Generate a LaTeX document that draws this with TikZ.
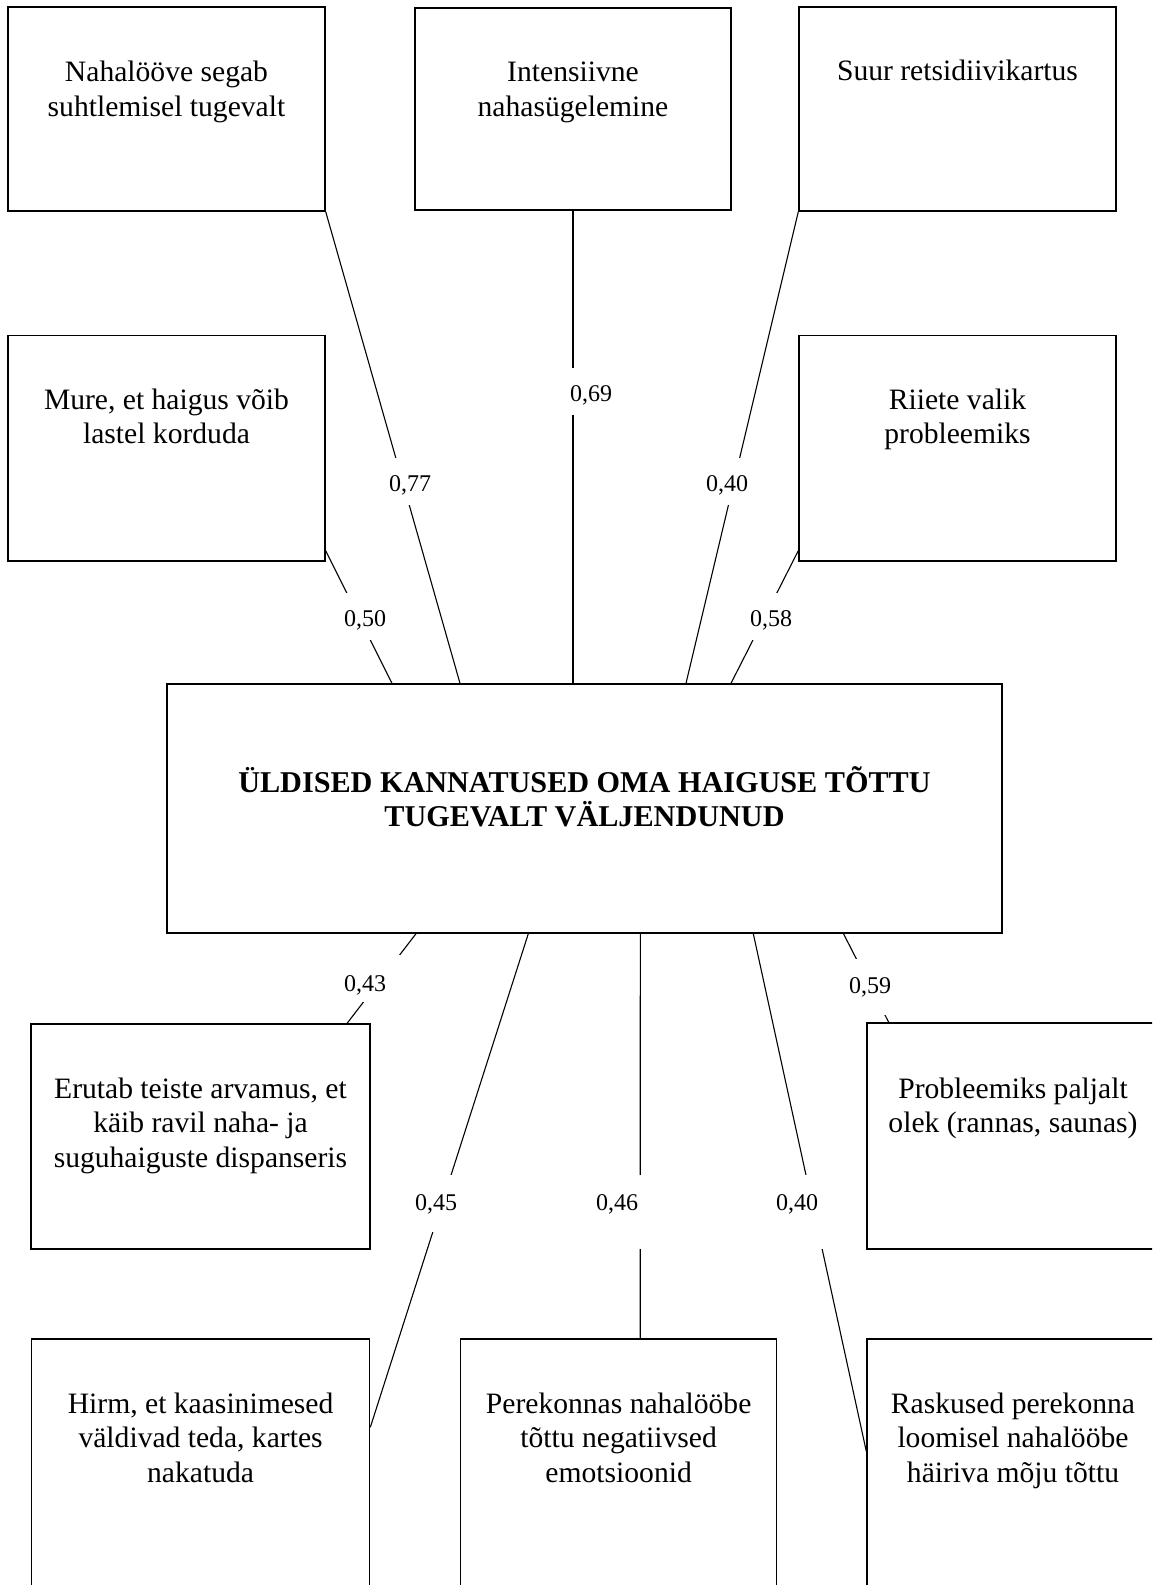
\documentclass[tikz,border=0pt]{standalone}
\usepackage{fontspec}
\setmainfont{Liberation Serif}
\usetikzlibrary{calc}
\newcommand\bxfont{\fontsize{14.8}{17.25}\selectfont}
\newcommand\ttlfont{\fontsize{15.1}{17.25}\selectfont\bfseries}
\newcommand\lbfont{\fontsize{12}{14}\selectfont}
\begin{document}
\begin{tikzpicture}[x=0.5pt,y=-0.5pt,
  box/.style={draw, line width=0.7pt, inner xsep=4pt, inner ysep=0pt, align=flush center, font=\bxfont},
  conn/.style={line width=0.55pt},
  lbl/.style={fill=white, inner sep=0pt, font=\lbfont, anchor=base, minimum width=32pt}]
\clip (0,0) rectangle (1152,1585);
% boxes
\node[box, text width=150.5pt, text height=37.35pt, text depth=64.65pt] (n1) at (166.5,109) {Nahalööve segab\\suhtlemisel tugevalt};
\node[box, text width=150pt, text height=36.85pt, text depth=64.15pt] (n2) at (573,109) {Intensiivne\\nahasügelemine};
\node[box, text width=150.5pt, text height=36.5pt, text depth=65.5pt] (n3) at (957.5,109) {Suur retsidiivikartus};
\node[box, text width=150.5pt, text height=36.75pt, text depth=76pt] (n4) at (166.5,448.25) {Mure, et haigus võib\\lastel korduda};
\node[box, text width=150.5pt, text height=36.75pt, text depth=76pt] (n5) at (957.5,448.25) {Riiete valik\\probleemiks};
\node[box, text width=409.5pt, text height=54pt, text depth=70.5pt, font=\ttlfont] (c) at (584.5,808.5) {ÜLDISED KANNATUSED OMA HAIGUSE TÕTTU\\TUGEVALT VÄLJENDUNUD};
\node[box, text width=161.5pt, text height=37pt, text depth=75.5pt] (n7) at (200.5,1136.5) {Erutab teiste arvamus, et\\käib ravil naha- ja\\suguhaiguste dispanseris};
\node[box, text width=138pt, text height=37.5pt, text depth=75.5pt] (n8) at (1013,1136) {Probleemiks paljalt\\olek (rannas, saunas)};
\node[box, text width=161pt, text height=37pt, text depth=93.5pt] (n9) at (200.6,1469.5) {Hirm, et kaasinimesed\\väldivad teda, kartes\\nakatuda};
\node[box, text width=150pt, text height=37pt, text depth=93.5pt] (n10) at (618.65,1469.5) {Perekonnas nahalööbe\\tõttu negatiivsed\\emotsioonid};
\node[box, text width=138pt, text height=37pt, text depth=93.5pt] (n11) at (1013,1469.5) {Raskused perekonna\\loomisel nahalööbe\\häiriva mõju tõttu};
% connectors
\draw[conn] (n1.south east) -- ($(c.north west)+(293.7,0)$);
\draw[conn] (n2.south) -- (c.north -| n2.south);
\draw[conn] (n3.south west) -- ($(c.north west)+(519.7,0)$);
\draw[conn] ($(n4.south east)+(0,-11)$) -- ($(c.north west)+(225.7,0)$);
\draw[conn] ($(n5.south west)+(0,-11)$) -- ($(c.north west)+(564.7,0)$);
\draw[conn] ($(c.south west)+(249.7,0)$) -- ($(n7.north west)+(316.8,0)$);
\draw[conn] ($(c.south west)+(362,0)$) -- ($(n9.north east)+(0,89)$);
\draw[conn] ($(c.south west)+(474,0)$) -- ($(n10.north west)+(180.3,0)$);
\draw[conn] ($(c.south west)+(587,0)$) -- ($(n11.north west)+(0,113)$);
\draw[conn] ($(c.south west)+(677.2,0)$) -- ($(n8.north west)+(22.4,0)$);
% labels
\node[lbl, text height=16.5pt, text depth=7pt] (l77) at (410,491) {0,77};
\node[lbl, text height=16.5pt, text depth=7pt] (l69) at (591,401) {0,69};
\node[lbl, text height=16.5pt, text depth=7pt] (l40a) at (727,491) {0,40};
\node[lbl, text height=16.5pt, text depth=7pt] (l50) at (365,626) {0,50};
\node[lbl, text height=16.5pt, text depth=7pt] (l58) at (771,626) {0,58};
\node[lbl, text height=18pt, text depth=5.5pt, minimum width=40pt] (l43) at (365,991) {0,43};
\node[lbl, text height=17pt, text depth=11pt] (l59) at (870,993) {0,59};
\node[lbl, text height=17.5pt, text depth=11pt] (l45) at (436,1210) {0,45};
\node[lbl, text height=17.5pt, text depth=19.5pt] (l46) at (617,1210) {0,46};
\node[lbl, text height=17.5pt, text depth=19.5pt] (l40b) at (797,1210) {0,40};
\end{tikzpicture}
\end{document}
